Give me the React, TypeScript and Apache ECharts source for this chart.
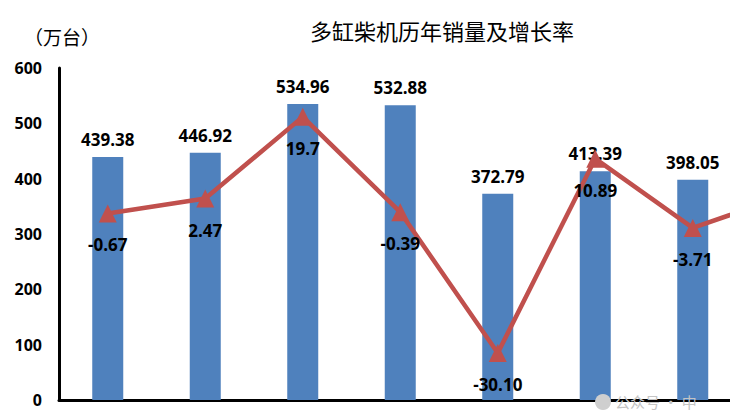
import React, { useEffect, useRef } from "react";
import * as echarts from "echarts";

const categories = ["1", "2", "3", "4", "5", "6", "7", "8"];
const salesValues: (number | null)[] = [439.38, 446.92, 534.96, 532.88, 372.79, 413.39, 398.05, null];
const growthValues: number[] = [-0.67, 2.47, 19.7, -0.39, -30.1, 10.89, -3.71, 3.4];
const growthLabels: string[] = ["-0.67", "2.47", "19.7", "-0.39", "-30.10", "10.89", "-3.71", ""];
const yTicks = [0, 100, 200, 300, 400, 500, 600];

export default function App() {
  const ref = useRef<HTMLDivElement>(null);
  useEffect(() => {
    document.documentElement.style.overflow = "hidden";
    document.body.style.margin = "0";
    document.body.style.overflow = "hidden";
    const chart = echarts.init(ref.current!, undefined, { renderer: "svg" });
    const numFont = "'Open Sans', 'Noto Sans', sans-serif";
    chart.setOption({
      animation: false,
      backgroundColor: "#ffffff",
      grid: { left: 59, right: 1, top: 68, bottom: 11, containLabel: false },
      graphic: [
        {
          type: "text",
          left: 310,
          top: 19,
          style: {
            text: "多缸柴机历年销量及增长率",
            font: "22px 'Noto Sans CJK SC', serif",
            fill: "#000",
          },
        },
        {
          type: "text",
          left: 24,
          top: 27,
          style: {
            text: "（万台）",
            font: "19px 'Noto Sans CJK SC', serif",
            fill: "#000",
          },
        },
        {
          type: "circle",
          shape: { cx: 603, cy: 402, r: 8 },
          style: { fill: "#cfcfcf" },
          z: 100,
        },
        {
          type: "text",
          left: 615,
          top: 394,
          z: 100,
          style: {
            text: "公众号 · 中",
            font: "15px 'Noto Sans CJK SC', sans-serif",
            fill: "#c4c4c4",
          },
        },
      ],
      xAxis: {
        type: "category",
        data: categories,
        axisLine: { show: true, lineStyle: { color: "#000", width: 3 } },
        axisTick: { show: false },
        axisLabel: { show: false },
        splitLine: { show: false },
      },
      yAxis: [
        {
          type: "value",
          min: 0,
          max: 600,
          interval: 100,
          axisLine: { show: true, lineStyle: { color: "#000", width: 3 } },
          axisTick: { show: false },
          splitLine: { show: false },
          axisLabel: {
            margin: 17,
            color: "#000",
            fontSize: 16,
            fontWeight: "bold",
            fontFamily: numFont,
            formatter: (v: number) => (yTicks.includes(v) ? String(v) : ""),
          },
        },
        {
          type: "value",
          min: -40,
          max: 30,
          show: false,
          splitLine: { show: false },
        },
      ],
      series: [
        {
          type: "bar",
          data: salesValues,
          barWidth: 31,
          itemStyle: { color: "#4F81BD" },
          label: {
            show: true,
            position: "top",
            distance: 9,
            color: "#000",
            fontSize: 17,
            fontWeight: "bold",
            fontFamily: numFont,
            formatter: (p: any) => (p.value == null ? "" : Number(p.value).toFixed(2)),
          },
          z: 2,
        },
        {
          type: "line",
          yAxisIndex: 1,
          data: growthValues,
          symbol: "triangle",
          symbolSize: 18,
          lineStyle: { color: "#C0504D", width: 4.5 },
          itemStyle: { color: "#C0504D" },
          label: {
            show: true,
            position: "bottom",
            distance: 14,
            color: "#000",
            fontSize: 17,
            fontWeight: "bold",
            fontFamily: numFont,
            formatter: (p: any) => growthLabels[p.dataIndex],
          },
          z: 3,
        },
      ],
    });
    return () => chart.dispose();
  }, []);
  return <div ref={ref} style={{ width: 840, height: 411 }} />;
}
